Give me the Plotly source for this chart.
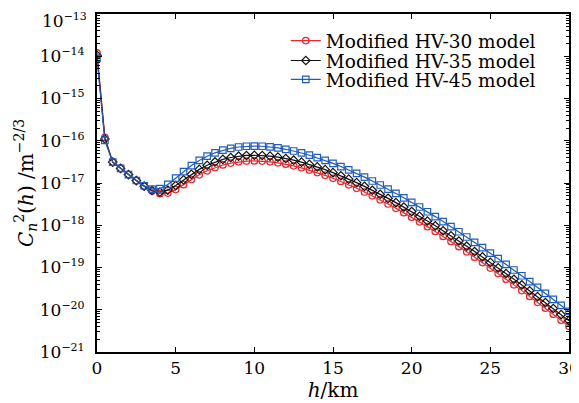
import plotly.graph_objects as go

h_km = [i * 0.5 for i in range(61)]

hv30 = [1.2e-14, 1.2e-16, 3.13e-17, 2.21e-17, 1.583e-17, 1.139e-17, 8.34e-18, 6.43e-18, 5.58e-18, 5.76e-18,
        6.97e-18, 9.12e-18, 1.209e-17, 1.563e-17, 1.945e-17, 2.324e-17, 2.671e-17, 2.958e-17, 3.171e-17, 3.298e-17,
        3.338e-17, 3.296e-17, 3.177e-17, 3.005e-17, 2.790e-17, 2.545e-17, 2.285e-17, 2.021e-17, 1.764e-17, 1.519e-17,
        1.293e-17, 1.089e-17, 9.074e-18, 7.484e-18, 6.121e-18, 4.960e-18, 3.989e-18, 3.181e-18, 2.519e-18, 1.981e-18,
        1.548e-18, 1.202e-18, 9.275e-19, 7.116e-19, 5.434e-19, 4.126e-19, 3.118e-19, 2.345e-19, 1.755e-19, 1.308e-19,
        9.713e-20, 7.180e-20, 5.290e-20, 3.881e-20, 2.838e-20, 2.068e-20, 1.502e-20, 1.087e-20, 7.845e-21, 5.647e-21,
        4.053e-21]

hv35 = [1.05e-14, 1.1e-16, 3.12e-17, 2.21e-17, 1.584e-17, 1.141e-17, 8.41e-18, 6.65e-18, 6.09e-18, 6.77e-18,
        8.71e-18, 1.186e-17, 1.606e-17, 2.099e-17, 2.627e-17, 3.149e-17, 3.625e-17, 4.019e-17, 4.311e-17, 4.485e-17,
        4.540e-17, 4.484e-17, 4.324e-17, 4.090e-17, 3.797e-17, 3.464e-17, 3.110e-17, 2.751e-17, 2.401e-17, 2.068e-17,
        1.760e-17, 1.482e-17, 1.235e-17, 1.019e-17, 8.331e-18, 6.751e-18, 5.429e-18, 4.330e-18, 3.429e-18, 2.696e-18,
        2.107e-18, 1.636e-18, 1.262e-18, 9.686e-19, 7.396e-19, 5.616e-19, 4.244e-19, 3.192e-19, 2.389e-19, 1.780e-19,
        1.322e-19, 9.773e-20, 7.200e-20, 5.282e-20, 3.863e-20, 2.815e-20, 2.044e-20, 1.480e-20, 1.068e-20, 7.686e-21,
        5.517e-21]

hv45 = [9.0e-15, 1.02e-16, 3.12e-17, 2.21e-17, 1.585e-17, 1.146e-17, 8.61e-18, 7.19e-18, 7.34e-18, 9.23e-18,
        1.300e-17, 1.861e-17, 2.583e-17, 3.418e-17, 4.306e-17, 5.179e-17, 5.974e-17, 6.629e-17, 7.116e-17, 7.407e-17,
        7.501e-17, 7.408e-17, 7.148e-17, 6.761e-17, 6.278e-17, 5.726e-17, 5.141e-17, 4.547e-17, 3.969e-17, 3.418e-17,
        2.909e-17, 2.450e-17, 2.042e-17, 1.684e-17, 1.377e-17, 1.116e-17, 8.975e-18, 7.157e-18, 5.668e-18, 4.457e-18,
        3.483e-18, 2.705e-18, 2.087e-18, 1.601e-18, 1.223e-18, 9.284e-19, 7.016e-19, 5.276e-19, 3.949e-19, 2.943e-19,
        2.185e-19, 1.616e-19, 1.190e-19, 8.732e-20, 6.386e-20, 4.653e-20, 3.380e-20, 2.446e-20, 1.765e-20, 1.271e-20,
        9.119e-21]

series_names = ["Modified HV-30 model", "Modified HV-35 model", "Modified HV-45 model"]
series_vals = [hv30, hv35, hv45]
colors = ["#e8262b", "#111111", "#1f5bbf"]
symbols = ["circle-open", "diamond-open", "square-open"]
legend_ids = ["legend", "legend2", "legend3"]
legend_y = [0.920, 0.861, 0.805]

y_exponents = [-21, -20, -19, -18, -17, -16, -15, -14, -13]
x_ticks = [0, 5, 10, 15, 20, 25, 30]

FONT = "DejaVu Serif"
EXP_SPAN = "<sup><span style='font-size:11px'>−{}</span></sup>"

def y_label(e):
    return "10" + EXP_SPAN.format(abs(e))

y_tickvals = [10.0 ** e for e in y_exponents]
# top label is drawn as an annotation (it sits slightly below its tick in the reference)
y_ticktext = [y_label(e) if e != -13 else "" for e in y_exponents]
y_minor = [m * 10.0 ** e for e in y_exponents[:-1] for m in range(2, 10)]

fig = go.Figure()
for name, vals, c, s, lg in zip(series_names, series_vals, colors, symbols, legend_ids):
    fig.add_trace(go.Scatter(
        x=h_km, y=vals, name=name, mode="lines+markers",
        line=dict(color=c, width=1.2),
        marker=dict(symbol=s, size=6.5, color=c, line=dict(color=c, width=1.2)),
        legend=lg,
    ))

legend_common = dict(x=0.40, xanchor="left", yanchor="middle",
                     bgcolor="rgba(0,0,0,0)", borderwidth=0,
                     font=dict(family=FONT, size=18.5, color="black"),
                     itemwidth=30)

fig.update_layout(
    width=571, height=395,
    margin=dict(l=89, r=10, t=6, b=51, autoexpand=False),
    paper_bgcolor="white", plot_bgcolor="white",
    font=dict(family=FONT, size=17, color="black"),
    showlegend=True,
    legend=dict(y=legend_y[0], **legend_common),
    legend2=dict(y=legend_y[1], **legend_common),
    legend3=dict(y=legend_y[2], **legend_common),
)

fig.add_annotation(
    text=y_label(-13), xref="paper", yref="paper", x=-0.017, y=0.982,
    xanchor="right", yanchor="middle", showarrow=False,
    font=dict(family=FONT, size=17, color="black"),
)

fig.update_xaxes(
    range=[0, 30], tickmode="array", tickvals=x_ticks,
    ticks="inside", ticklen=5, tickwidth=1, tickcolor="black",
    showline=True, linecolor="black", linewidth=2, mirror="allticks",
    showgrid=False, zeroline=False, automargin=False,
    ticklabeloverflow="allow",
    tickfont=dict(family=FONT, size=17),
    title=dict(text="<i>h</i>/km", font=dict(family=FONT, size=20), standoff=0),
)

fig.update_yaxes(
    type="log", range=[-21, -13], tickmode="array",
    tickvals=y_tickvals, ticktext=y_ticktext,
    ticks="inside", ticklen=5, tickwidth=1, tickcolor="black",
    showline=True, linecolor="black", linewidth=2, mirror="allticks",
    showgrid=False, zeroline=False, automargin=False,
    ticklabeloverflow="allow", ticklabelstandoff=7,
    minor=dict(ticks="inside", ticklen=3, tickcolor="black",
               tickmode="array", tickvals=y_minor, showgrid=False),
    tickfont=dict(family=FONT, size=17),
    title=dict(text="<i>C</i><sub><i>n</i></sub><sup>2</sup>(<i>h</i>) /m<sup>−2/3</sup>",
               font=dict(family=FONT, size=20), standoff=0),
)

fig.write_html("out.html")
